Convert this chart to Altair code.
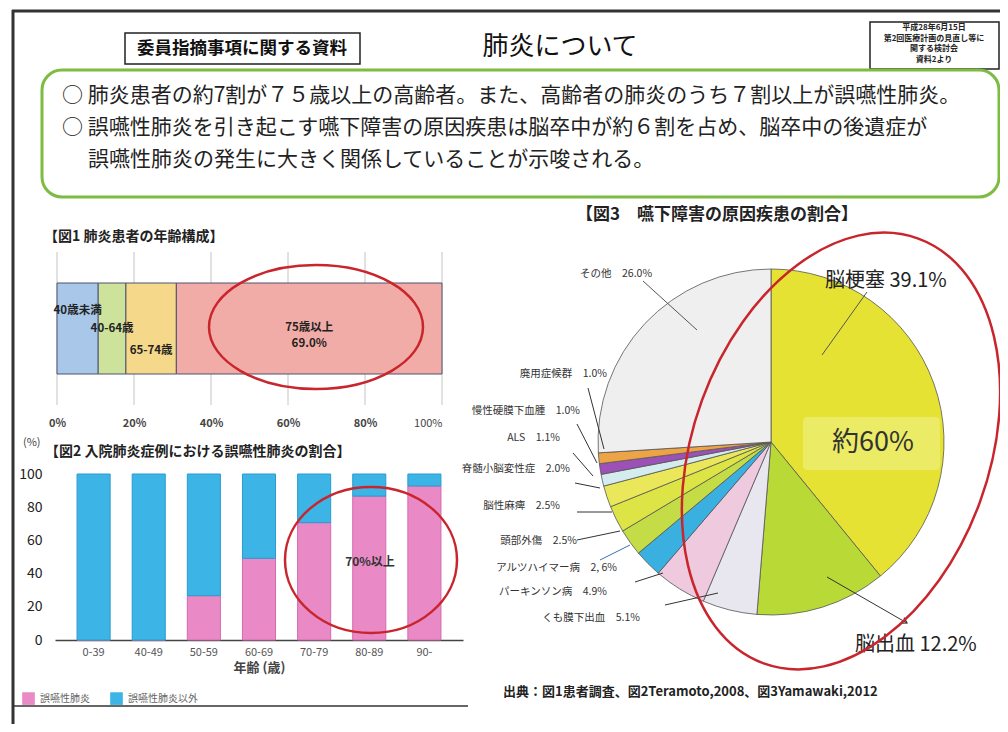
import altair as alt
import pandas as pd

FONT = "Noto Sans CJK JP"

# ---------------- data ----------------
FIG1_GROUPS = ["40歳未満", "40-64歳", "65-74歳", "75歳以上"]
FIG1_SHARE = [10.7, 7.2, 13.1, 69.0]
FIG1_COLORS = ["#a9c8e9", "#cde39b", "#f6d88a", "#f2aca7"]
FIG1_TICKS = [0, 20, 40, 60, 80, 100]

FIG2_AGES = ["0-39", "40-49", "50-59", "60-69", "70-79", "80-89", "90-"]
FIG2_SERIES = ["誤嚥性肺炎", "誤嚥性肺炎以外"]
FIG2_ASPIRATION = [0, 0, 26.7, 49.2, 70.7, 86.7, 92.8]
FIG2_OTHER = [100, 100, 73.3, 50.8, 29.3, 13.3, 7.2]
FIG2_COLORS = ["#e98ac6", "#3cb4e5"]
FIG2_STROKES = ["#d46aae", "#2a9bd0"]
FIG2_TICKS = [0, 20, 40, 60, 80, 100]

PIE_CAUSES = ["脳梗塞", "脳出血", "くも膜下出血", "パーキンソン病", "アルツハイマー病",
              "頭部外傷", "脳性麻痺", "脊髄小脳変性症", "ALS", "慢性硬膜下血腫",
              "廃用症候群", "その他"]
PIE_SHARE = [39.1, 12.2, 5.1, 4.9, 2.6, 2.5, 2.5, 2.0, 1.1, 1.0, 1.0, 26.0]
PIE_COLORS = ["#e6e233", "#b8d936", "#e8e6ef", "#efc9dd", "#3ab0e0",
              "#c4dc45", "#dde445", "#ebe75a", "#d5ecee", "#9b51b5",
              "#eda447", "#efefef"]
PIE_VALUE_TEXT = {"アルツハイマー病": "2, 6%"}

# ---------------- layout ----------------
W, H = 992, 716


def P(v):
    return v - 8


ONE = pd.DataFrame({"k": [0]})
layers = []


def text(s, x, y, size, weight="normal", align="left", color="#222", baseline="middle"):
    return alt.Chart(ONE).mark_text(
        text=s, font=FONT, fontSize=size, fontWeight=weight, align=align,
        baseline=baseline, color=color
    ).encode(x=alt.value(P(x)), y=alt.value(P(y)))


def line(x1, y1, x2, y2, color="#333", width=1.0):
    return alt.Chart(ONE).mark_rule(color=color, strokeWidth=width).encode(
        x=alt.value(P(x1)), y=alt.value(P(y1)), x2=alt.value(P(x2)), y2=alt.value(P(y2)))


def box(x1, y1, x2, y2, fill="white", stroke="#222", sw=1.5, r=0, fill_opacity=1):
    return alt.Chart(ONE).mark_rect(
        fill=fill, fillOpacity=fill_opacity, stroke=stroke, strokeWidth=sw, cornerRadius=r
    ).encode(x=alt.value(P(x1)), x2=alt.value(P(x2)), y=alt.value(P(y1)), y2=alt.value(P(y2)))


def ellipse(cx, cy, rx, ry, angle=0, color="#c9252c", sw=2.5):
    m = max(rx, ry)
    kx, ky = rx / m, ry / m
    c = 0.5523
    f = lambda v: f"{v:.4f}"
    path = (f"M 0 {f(-ky)} C {f(c*kx)} {f(-ky)} {f(kx)} {f(-c*ky)} {f(kx)} 0 "
            f"C {f(kx)} {f(c*ky)} {f(c*kx)} {f(ky)} 0 {f(ky)} "
            f"C {f(-c*kx)} {f(ky)} {f(-kx)} {f(c*ky)} {f(-kx)} 0 "
            f"C {f(-kx)} {f(-c*ky)} {f(-c*kx)} {f(-ky)} 0 {f(-ky)} Z")
    return alt.Chart(ONE).mark_point(
        shape=path, size=(2 * m) ** 2, filled=False, color=color, stroke=color,
        strokeWidth=sw, angle=angle, opacity=1
    ).encode(x=alt.value(P(cx)), y=alt.value(P(cy)))


# ---------------- slide frame & header ----------------
layers.append(line(12, 11, 1010, 11, "#333", 3))
layers.append(line(13, 10, 13, 740, "#333", 3))
layers.append(line(12, 706, 468, 706, "#333", 1.5))

layers.append(box(125, 33, 360, 64, stroke="#222", sw=1.5))
layers.append(text("委員指摘事項に関する資料", 242, 49, 17.5, "bold", "center", "#111"))
layers.append(text("肺炎について", 560, 47, 26, "normal", "center", "#111"))

layers.append(box(870, 22, 999, 69, stroke="#222", sw=1.5))
for s, yy in [("平成28年6月15日", 28), ("第2回医療計画の見直し等に", 38.5),
              ("関する検討会", 49), ("資料2より", 59.5)]:
    layers.append(text(s, 934, yy, 8, "bold", "center", "#222"))

layers.append(box(42, 70, 999, 197, fill="white", stroke="#7dbb42", sw=3, r=20))
layers.append(text("○ 肺炎患者の約7割が７５歳以上の高齢者。また、高齢者の肺炎のうち７割以上が誤嚥性肺炎。",
                   62, 96, 21, "normal", "left", "#222"))
layers.append(text("○ 誤嚥性肺炎を引き起こす嚥下障害の原因疾患は脳卒中が約６割を占め、脳卒中の後遺症が",
                   62, 128, 21, "normal", "left", "#222"))
layers.append(text("誤嚥性肺炎の発生に大きく関係していることが示唆される。",
                   88, 160, 21, "normal", "left", "#222"))

# ---------------- figure 1 ----------------
layers.append(text("【図1  肺炎患者の年齢構成】", 44, 237, 14, "bold", "left", "#222"))

fig1_df = pd.DataFrame({"group": FIG1_GROUPS, "share": FIG1_SHARE})
fig1_df["end"] = fig1_df["share"].cumsum()
fig1_df["start"] = fig1_df["end"] - fig1_df["share"]
fig1_df["mid"] = fig1_df["end"] - fig1_df["share"] / 2
fig1_df["pct"] = [f"{v:.1f}%" for v in FIG1_SHARE]
x1 = alt.Scale(domain=[0, 100], range=[P(57), P(442)])
ax1 = alt.Axis(
    orient="bottom", offset=P(417) - H, values=FIG1_TICKS,
    labelExpr="datum.value + '%'", grid=False, domain=False, ticks=False,
    tickSize=0, labelPadding=0, labelFlush=False, labelFontSize=11,
    labelColor="#444", labelFont=FONT, title=None,
    labelFontWeight={"condition": {"test": "datum.value == 100", "value": "normal"}, "value": "bold"},
    labelAlign={"condition": {"test": "datum.value == 100", "value": "right"}, "value": "center"},
)

grid1 = alt.Chart(pd.DataFrame({"tick": FIG1_TICKS})).mark_rule(
    color="#c4c4c4", strokeWidth=1
).encode(
    x=alt.X("tick:Q", scale=x1, axis=ax1),
    y=alt.value(P(252)), y2=alt.value(P(405)),
)
bars1 = alt.Chart(fig1_df).mark_rect(stroke="#4d5270", strokeWidth=1).encode(
    x=alt.X("start:Q", scale=x1, axis=ax1),
    x2="end:Q",
    y=alt.value(P(283)), y2=alt.value(P(374)),
    color=alt.Color("group:N", scale=alt.Scale(domain=FIG1_GROUPS, range=FIG1_COLORS), legend=None),
)


def fig1_label(g, y, field="group"):
    return alt.Chart(fig1_df).transform_filter(alt.datum.group == g).mark_text(
        font=FONT, fontSize=11.5, fontWeight="bold", color="#222"
    ).encode(x=alt.X("mid:Q", scale=x1, axis=ax1), y=alt.value(P(y)), text=f"{field}:N")


fig1 = alt.layer(
    grid1, bars1,
    fig1_label("40歳未満", 311), fig1_label("40-64歳", 329), fig1_label("65-74歳", 351),
    fig1_label("75歳以上", 328), fig1_label("75歳以上", 344, "pct"),
)
layers.append(fig1)
layers.append(ellipse(316, 327, 107, 62))

# ---------------- figure 2 ----------------
layers.append(text("(%)", 23, 443, 11, "normal", "left", "#444"))
layers.append(text("【図2  入院肺炎症例における誤嚥性肺炎の割合】", 45, 452, 14, "bold", "left", "#222"))

fig2_df = pd.DataFrame({
    "age": FIG2_AGES * 2,
    "series": [FIG2_SERIES[0]] * len(FIG2_AGES) + [FIG2_SERIES[1]] * len(FIG2_AGES),
    "value": FIG2_ASPIRATION + FIG2_OTHER,
    "ord": [0] * len(FIG2_AGES) + [1] * len(FIG2_AGES),
})
fig2 = alt.Chart(fig2_df).mark_bar(strokeWidth=1).encode(
    x=alt.X("age:N", scale=alt.Scale(domain=FIG2_AGES, range=[P(55), P(463)],
                                     paddingInner=0.4, paddingOuter=0.4),
            axis=alt.Axis(orient="bottom", offset=P(640) - H, domain=True,
                          domainColor="#444", domainWidth=1.5, ticks=False, tickSize=0,
                          labelAngle=0, labelFontSize=11, labelColor="#555", labelFont=FONT,
                          labelPadding=6, title="年齢 (歳)", titleFontSize=13,
                          titleColor="#444", titleFont=FONT, titleFontWeight="bold",
                          titlePadding=4)),
    y=alt.Y("value:Q", stack="zero",
            scale=alt.Scale(domain=[0, 100], range=[P(640), P(474)], nice=False),
            axis=alt.Axis(orient="left", offset=-P(43), values=FIG2_TICKS, domain=False,
                          ticks=False, tickSize=0, grid=False, labelFontSize=14,
                          labelColor="#222", labelFont=FONT, labelPadding=1, title=None)),
    color=alt.Color("series:N", scale=alt.Scale(domain=FIG2_SERIES, range=FIG2_COLORS),
                    legend=alt.Legend(orient="none", legendX=P(22), legendY=P(692),
                                      direction="horizontal", title=None, symbolType="square",
                                      symbolSize=160, symbolStrokeWidth=0, labelFontSize=10,
                                      labelColor="#666", labelFont=FONT, columnPadding=20,
                                      labelOffset=5, padding=0)),
    stroke=alt.Stroke("series:N", scale=alt.Scale(domain=FIG2_SERIES, range=FIG2_STROKES),
                      legend=None),
    order=alt.Order("ord:Q"),
)
layers.append(fig2)
layers.append(text("70%以上", 370, 562, 12, "bold", "center", "#333"))
layers.append(ellipse(371, 560, 86, 73))

# ---------------- figure 3 ----------------
layers.append(text("【図3　嚥下障害の原因疾患の割合】", 717, 215, 17, "bold", "center", "#222"))

pie_df = pd.DataFrame({"cause": PIE_CAUSES, "share": PIE_SHARE,
                       "idx": list(range(len(PIE_CAUSES)))})
pie = alt.Chart(pie_df).mark_arc(radius=173, stroke="#555", strokeWidth=0.8).encode(
    theta=alt.Theta("share:Q", stack=True),
    order=alt.Order("idx:Q"),
    color=alt.Color("cause:N", scale=alt.Scale(domain=PIE_CAUSES, range=PIE_COLORS), legend=None),
    x=alt.value(P(771)), y=alt.value(P(442)),
)
layers.append(pie)
layers.append(box(803, 417, 940, 470, fill="#ebeb66", stroke="#ebeb66", sw=0, r=4))
layers.append(text("約60%", 873, 443, 27, "normal", "center", "#333"))

# label placement (x, y, align, size) for each cause, same order as PIE_CAUSES
PIE_LABEL_POS = [
    (825, 281, "left", 20), (855, 645, "left", 20), (640, 618, "right", 10.5),
    (607, 592, "right", 10.5), (617, 568, "right", 10.5), (577, 541, "right", 10.5),
    (560, 506, "right", 10.5), (570, 469, "right", 10.5), (560, 438, "right", 10.5),
    (580, 411, "right", 10.5), (607, 374, "right", 10.5), (580, 274, "left", 10.5),
]
for cause, share, (lx, ly, al, sz) in zip(PIE_CAUSES, PIE_SHARE, PIE_LABEL_POS):
    vt = PIE_VALUE_TEXT.get(cause, f"{share:.1f}%")
    if sz > 15:
        s = f"{cause}  {vt}"
        layers.append(text(s, lx, ly, sz, "normal", al, "#222"))
    else:
        s = f"{cause}　{vt}"
        layers.append(text(s, lx, ly, sz, "normal", al, "#333"))

LEADERS = [
    (643, 281, 697, 330, "#555"), (867, 292, 822, 355, "#555"), (827, 577, 907, 623, "#333"),
    (588, 388, 604, 449, "#333"), (577, 424, 597, 463, "#333"), (573, 453, 593, 476, "#333"),
    (575, 483, 600, 488, "#333"), (577, 512, 612, 512, "#333"), (577, 540, 620, 531, "#333"),
    (600, 560, 630, 545, "#3a6fb0"), (635, 582, 663, 573, "#333"), (665, 605, 718, 593, "#333"),
]
for a, b, c, d, col in LEADERS:
    layers.append(line(a, b, c, d, col, 1))
layers.append(alt.Chart(ONE).mark_point(
    shape="M -1 -0.6 L 0 0 L -1 0.6", size=110, filled=False, color="#333",
    strokeWidth=1.2, angle=30, opacity=1
).encode(x=alt.value(P(907)), y=alt.value(P(623))))

layers.append(ellipse(841, 451, 148, 226, angle=20))

layers.append(text("出典：図1患者調査、図2Teramoto,2008、図3Yamawaki,2012", 503, 692, 13, "bold", "left", "#222"))

chart = alt.layer(*layers).resolve_scale(
    x="independent", y="independent", color="independent",
    stroke="independent", theta="independent"
).properties(
    width=W, height=H, padding=0,
    autosize=alt.AutoSizeParams(type="none"), background="white"
).configure(font=FONT).configure_view(stroke=None)

chart.save("out.html", embed_options={"renderer": "svg", "actions": False})
